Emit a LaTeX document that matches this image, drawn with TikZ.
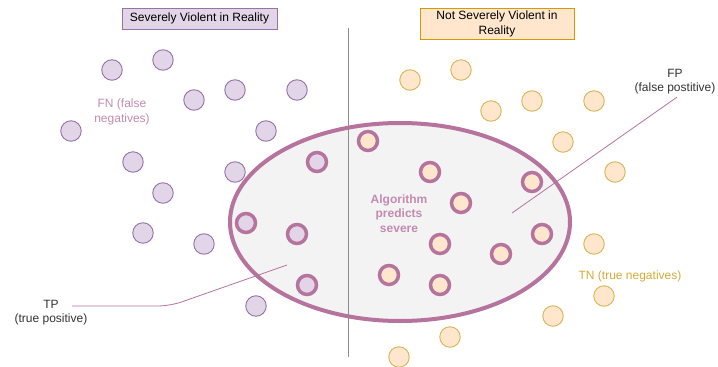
\documentclass[tikz,border=0pt]{standalone}
\usepackage{fontspec}
\setmainfont{Liberation Sans}
\usepackage{tikz}
\definecolor{vlfill}{HTML}{E1D5E7}
\definecolor{vlline}{HTML}{9673A6}
\definecolor{ovalline}{HTML}{B5739D}
\definecolor{ovalfill}{HTML}{F3F3F3}
\definecolor{nvfill}{HTML}{FFE6CC}
\definecolor{nvline}{HTML}{D6B656}
\definecolor{nvbox}{HTML}{D79B00}
\definecolor{pinktext}{HTML}{C38BB0}
\definecolor{goldtext}{HTML}{D4AC3A}
\tikzset{
  fnball/.style={circle, draw=vlline, fill=vlfill, line width=0.9pt, minimum size=20.5pt, inner sep=0pt},
  tpball/.style={circle, draw=ovalline, fill=vlfill, line width=3.5pt, minimum size=19pt, inner sep=0pt},
  tnball/.style={circle, draw=nvline, fill=nvfill, line width=0.9pt, minimum size=20.5pt, inner sep=0pt},
  fpball/.style={circle, draw=ovalline, fill=nvfill, line width=3.5pt, minimum size=19pt, inner sep=0pt}
}

\begin{document}
\begin{tikzpicture}[x=1pt,y=-1pt,font=\fontsize{12}{15}\selectfont]
\useasboundingbox[fill=white] (0,0) rectangle (718,367);

% prediction oval
\draw[line width=4pt, draw=ovalline, fill=ovalfill] (400,222) ellipse [x radius=170, y radius=99];

% dividing line
\coordinate (divtop) at (348,28);
\coordinate (divbot) at (348,357);
\draw[line width=1pt, draw=black!45] (divtop) -- (divbot);

% headings
\node[draw=vlline, fill=vlfill, line width=0.8pt, minimum width=155pt, minimum height=21pt, inner sep=1pt] (sevhead) at (199.5,18.5) {Severely Violent in Reality};
\node[draw=nvbox, fill=nvfill, line width=0.8pt, minimum width=154pt, minimum height=31pt, inner sep=1pt, align=center] (nothead) at (497,23.5) {Not Severely Violent in\\Reality};

% FN (outside oval, left)
\node[fnball] (fn1) at (112,70) {};
\node[fnball] (fn2) at (163,60) {};
\node[fnball] (fn3) at (194,100) {};
\node[fnball] (fn4) at (235,90) {};
\node[fnball] (fn5) at (297,90) {};
\node[fnball] (fn6) at (71,131) {};
\node[fnball] (fn7) at (266,131) {};
\node[fnball] (fn8) at (133,162) {};
\node[fnball] (fn9) at (235,172) {};
\node[fnball] (fn10) at (163,193) {};
\node[fnball] (fn11) at (143,233) {};
\node[fnball] (fn12) at (204,244) {};
\node[fnball] (fn13) at (256,306) {};

% TP (inside oval, left)
\node[tpball] (tp1) at (317,162) {};
\node[tpball] (tp2) at (246,223) {};
\node[tpball] (tp3) at (297,234) {};
\node[tpball] (tp4) at (307,285) {};

% TN (outside oval, right)
\node[tnball] (tn1) at (410,80) {};
\node[tnball] (tn2) at (461,70) {};
\node[tnball] (tn3) at (491,111) {};
\node[tnball] (tn4) at (532,101) {};
\node[tnball] (tn5) at (594,101) {};
\node[tnball] (tn6) at (563,142) {};
\node[tnball] (tn7) at (615,172) {};
\node[tnball] (tn8) at (594,244) {};
\node[tnball] (tn9) at (604,296) {};
\node[tnball] (tn10) at (553,316) {};
\node[tnball] (tn11) at (450,337) {};
\node[tnball] (tn12) at (399,357) {};

% FP (inside oval, right)
\node[fpball] (fp1) at (368,141) {};
\node[fpball] (fp2) at (430,172) {};
\node[fpball] (fp3) at (532,182) {};
\node[fpball] (fp4) at (461,203) {};
\node[fpball] (fp5) at (440,244) {};
\node[fpball] (fp6) at (501,254) {};
\node[fpball] (fp7) at (542,234) {};
\node[fpball] (fp8) at (389,275) {};
\node[fpball] (fp9) at (440,285) {};

% labels
\node[text=pinktext, align=center] (fnlab) at (122,111.5) {FN (false\\negatives)};
\node[text=pinktext, align=center, font=\fontsize{12}{14.5}\selectfont\bfseries] (alglab) at (399,213.5) {Algorithm\\predicts\\severe};
\node[text=goldtext] (tnlab) at (630,276) {TN (true negatives)};

\node[text=black!80] (tplab) at (51,304) {TP};
\node[text=black!80] (tpsub) at (51,319) {(true positive)};
\node[text=black!80] (fplab) at (675,73) {FP};
\node[text=black!80] (fpsub) at (675,88) {(false postitive)};

\coordinate (tpbend) at (170,306);
\coordinate (tpend) at (287,265);
\coordinate (fpend) at (512,213);
\draw[ovalline, line width=0.8pt, rounded corners=12pt] (tplab.east) ++(10,2) -- (tpbend) -- (tpend);
\draw[ovalline, line width=0.8pt] (fpsub.south) ++(2,0) -- (fpend);
\end{tikzpicture}
\end{document}
